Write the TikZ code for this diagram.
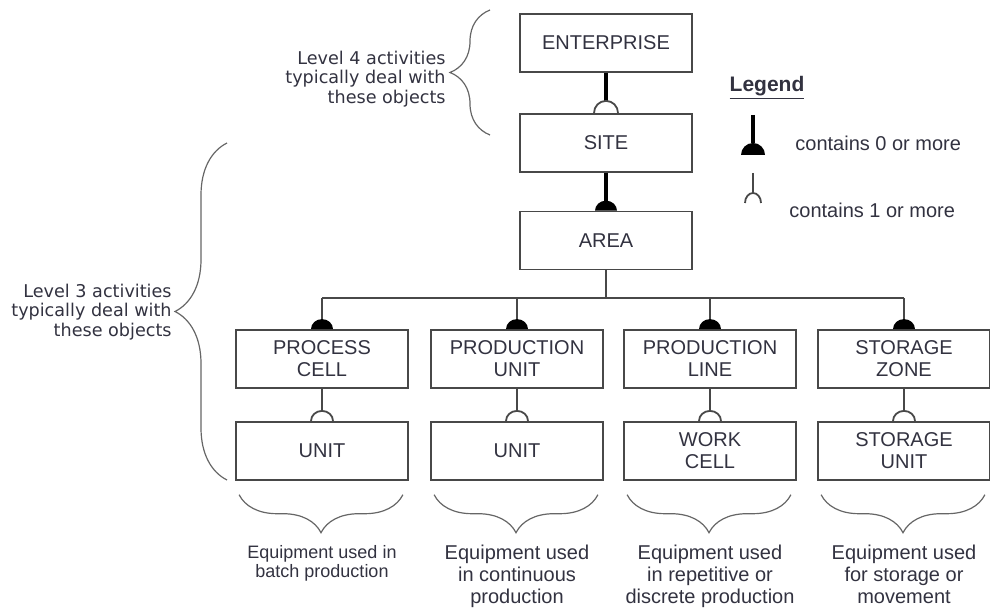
\documentclass[tikz,border=0pt]{standalone}
\usepackage{fontspec}
\setsansfont{Liberation Sans}
\newfontfamily\notefont{DejaVu Sans}
\usepackage{tikz}
\usetikzlibrary{decorations.pathreplacing, positioning}

\definecolor{inkgray}{RGB}{50,50,64}
\definecolor{linegray}{RGB}{72,72,72}

\tikzset{
  objbox/.style={draw=linegray, line width=0.9pt, minimum width=86pt, minimum height=29pt,
    inner sep=1pt, align=center, text=inkgray, font=\sffamily\fontsize{10}{11}\selectfont},
  link/.style={draw=linegray, line width=0.9pt},
  heavylink/.style={draw=black, line width=2pt},
  curly/.style={draw=black!60, line width=0.6pt, decorate, decoration={brace, amplitude=#1}},
  levelnote/.style={align=right, text=inkgray, inner sep=0pt, font=\notefont\fontsize{8.8}{9.6}\selectfont},
  usenote/.style={align=center, text=inkgray, inner sep=0pt, anchor=north, font=\sffamily\fontsize{10}{11}\selectfont},
  legtext/.style={text=inkgray, inner sep=0pt, anchor=west, font=\sffamily\fontsize{10}{11}\selectfont},
}
% filled dome = contains 0 or more, open arc = contains 1 or more
\newcommand{\zerodome}[1]{\fill[black] ([xshift=-5.5pt]#1) arc (180:0:5.5pt and 5pt) -- cycle;}
\newcommand{\onearc}[1]{\draw[link] ([xshift=-5.5pt]#1) arc (180:0:5.5pt and 5pt);}

\begin{document}
\begin{tikzpicture}[x=0.5pt, y=0.5pt]
  \useasboundingbox (0,0) rectangle (990,-608);

  % level 4 objects and the area
  \node[objbox] (ent) at (606,-43) {ENTERPRISE};
  \node[objbox, below=20pt of ent] (site) {SITE};
  \node[objbox, below=19pt of site] (area) {AREA};

  % level 3 objects
  \node[objbox] (pcell) at (322,-359) {PROCESS\\CELL};
  \node[objbox] (punit) at (517,-359) {PRODUCTION\\UNIT};
  \node[objbox] (pline) at (710,-359) {PRODUCTION\\LINE};
  \node[objbox] (szone) at (904,-359) {STORAGE\\ZONE};
  \node[objbox, below=16pt of pcell] (unita) {UNIT};
  \node[objbox, below=16pt of punit] (unitb) {UNIT};
  \node[objbox, below=16pt of pline] (wcell) {WORK\\CELL};
  \node[objbox, below=16pt of szone] (sunit) {STORAGE\\UNIT};

  % enterprise -> site -> area
  \draw[heavylink] (ent.south) -- ([yshift=6pt]site.north);
  \draw[link] ([xshift=-6pt]site.north) arc (180:0:6pt);
  \draw[heavylink] (site.south) -- ([yshift=5pt]area.north);
  \zerodome{area.north}

  % area bus down to the four columns
  \coordinate (bus) at (0,-298);
  \draw[link] (area.south) -- (area.south |- bus);
  \draw[link] (pcell.north |- bus) -- (szone.north |- bus);
  \foreach \parent/\child in {pcell/unita, punit/unitb, pline/wcell, szone/sunit} {
    \draw[link] (\parent.north |- bus) -- ([yshift=5pt]\parent.north);
    \zerodome{\parent.north}
    \draw[link] (\parent.south) -- ([yshift=5pt]\child.north);
    \onearc{\child.north}
    \draw[curly=19pt] ([shift={(-3pt,-7pt)}]\child.south east) -- ([shift={(2pt,-7pt)}]\child.south west);
  }

  % what each column is used for
  \node[usenote, font=\sffamily\fontsize{9}{9.5}\selectfont] (usea) at ([yshift=-32pt]unita.south) {Equipment used in\\batch production};
  \node[usenote] (useb) at ([yshift=-32pt]unitb.south) {Equipment used\\in continuous\\production};
  \node[usenote] (usec) at ([yshift=-32pt]wcell.south) {Equipment used\\in repetitive or\\discrete production};
  \node[usenote] (used) at ([yshift=-32pt]sunit.south) {Equipment used\\for storage or\\movement};

  % activity levels
  \node[levelnote, anchor=east] (lvlfour) at (446,-79) {Level 4 activities\\typically deal with\\these objects};
  \draw[curly=20pt] (490,-135) -- (490,-10);
  \node[levelnote, anchor=east] (lvlthree) at (172,-312) {Level 3 activities\\typically deal with\\these objects};
  \draw[curly=26pt] (227,-480) -- (227,-143);

  % legend
  \node[text=inkgray, font=\sffamily\bfseries\fontsize{10.5}{12}\selectfont] (legend) at (767,-88) {\underline{Legend}};
  \coordinate (zmtop) at (753,-115);
  \coordinate (zmfoot) at (753,-155);
  \draw[heavylink, line width=1.6pt] (zmtop) -- ([yshift=6pt]zmfoot);
  \fill[black] ([xshift=-6pt]zmfoot) arc (180:0:6pt and 6pt) -- cycle;
  \node[legtext] (zmtext) at (795,-143) {contains 0 or more};
  \coordinate (omtop) at (753,-173);
  \coordinate (omfoot) at (753,-203);
  \draw[link] (omtop) -- ([yshift=5pt]omfoot);
  \draw[link] ([xshift=-4pt]omfoot) arc (180:0:4pt and 5pt);
  \node[legtext] (omtext) at (789,-210) {contains 1 or more};
\end{tikzpicture}
\end{document}
